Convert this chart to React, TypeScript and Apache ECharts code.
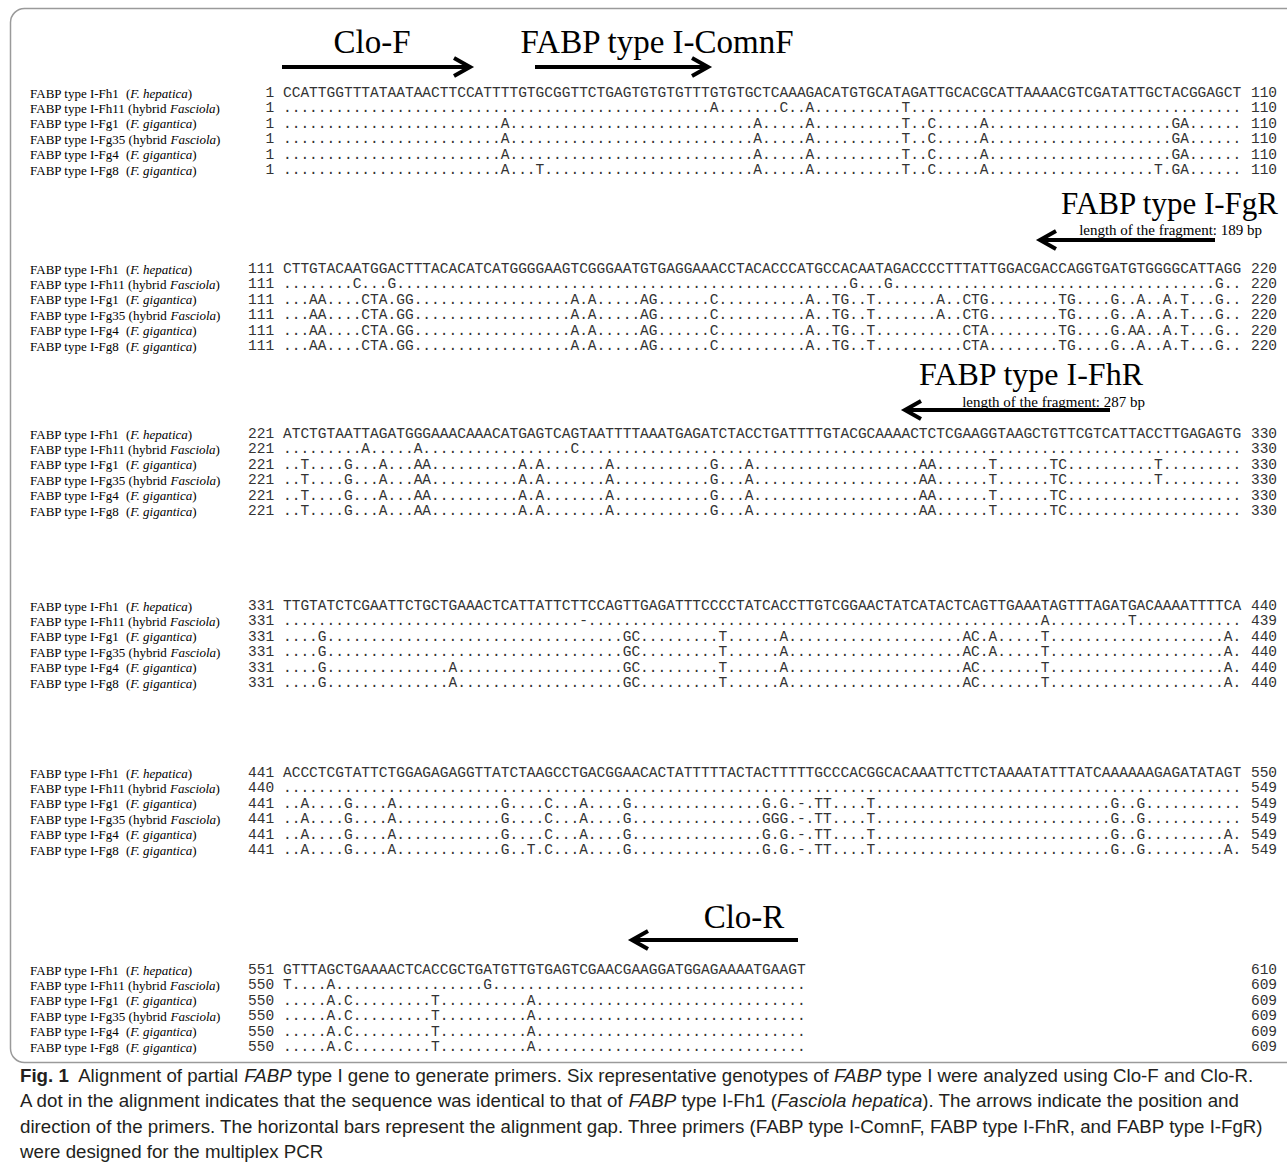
import React, { useEffect, useRef } from "react";
import * as echarts from "echarts";

const W = 1287;
const H = 1170;

// ---------- DATA ----------
const strainNames = [
  "FABP type I-Fh1",
  "FABP type I-Fh11",
  "FABP type I-Fg1",
  "FABP type I-Fg35",
  "FABP type I-Fg4",
  "FABP type I-Fg8",
];
const strainHosts = ["F. hepatica", "Fasciola", "F. gigantica", "Fasciola", "F. gigantica", "F. gigantica"];
const strainHybrid = [false, true, false, true, false, false];

// reference sequence (FABP type I-Fh1) per alignment block
const fh1Blocks = [
  "CCATTGGTTTATAATAACTTCCATTTTGTGCGGTTCTGAGTGTGTGTTTGTGTGCTCAAAGACATGTGCATAGATTGCACGCATTAAAACGTCGATATTGCTACGGAGCT",
  "CTTGTACAATGGACTTTACACATCATGGGGAAGTCGGGAATGTGAGGAAACCTACACCCATGCCACAATAGACCCCTTTATTGGACGACCAGGTGATGTGGGGCATTAGG",
  "ATCTGTAATTAGATGGGAAACAAACATGAGTCAGTAATTTTAAATGAGATCTACCTGATTTTGTACGCAAAACTCTCGAAGGTAAGCTGTTCGTCATTACCTTGAGAGTG",
  "TTGTATCTCGAATTCTGCTGAAACTCATTATTCTTCCAGTTGAGATTTCCCCTATCACCTTGTCGGAACTATCATACTCAGTTGAAATAGTTTAGATGACAAAATTTTCA",
  "ACCCTCGTATTCTGGAGAGAGGTTATCTAAGCCTGACGGAACACTATTTTTACTACTTTTTGCCCACGGCACAAATTCTTCTAAAATATTTATCAAAAAAGAGATATAGT",
  "GTTTAGCTGAAAACTCACCGCTGATGTTGTGAGTCGAACGAAGGATGGAGAAAATGAAGT",
];

// differences from Fh1, "position+base" within each block ("-" = gap)
const fh11Diffs = ["50A 58C 61A 72T", "9C 13G 66G 70G 108G", "10A 16A 34C", "35- 88A 98T", "", "1T 6A 24G"];
const fg1Diffs = [
  "26A 55A 61A 72T 75C 81A 103G 104A",
  "4A 5A 10C 11T 12A 14G 15G 34A 36A 42A 43G 50C 61A 64T 65G 68T 76A 79C 80T 81G 90T 91G 96G 99A 102A 104T 108G",
  "3T 8G 12A 16A 17A 28A 30A 38A 50G 54A 74A 75A 82T 89T 90C 101T",
  "5G 40G 41C 51T 58A 79A 80C 82A 88T 109A",
  "3A 8G 13A 26G 31C 35A 40G 56G 58G 60- 62T 63T 68T 96G 99G",
  "6A 8C 18T 29A",
];
const fg35Diffs = [
  "26A 55A 61A 72T 75C 81A 103G 104A",
  "4A 5A 10C 11T 12A 14G 15G 34A 36A 42A 43G 50C 61A 64T 65G 68T 76A 79C 80T 81G 90T 91G 96G 99A 102A 104T 108G",
  "3T 8G 12A 16A 17A 28A 30A 38A 50G 54A 74A 75A 82T 89T 90C 101T",
  "5G 40G 41C 51T 58A 79A 80C 82A 88T 109A",
  "3A 8G 13A 26G 31C 35A 40G 56G 57G 58G 60- 62T 63T 68T 96G 99G",
  "6A 8C 18T 29A",
];
const fg4Diffs = [
  "26A 55A 61A 72T 75C 81A 103G 104A",
  "4A 5A 10C 11T 12A 14G 15G 34A 36A 42A 43G 50C 61A 64T 65G 68T 79C 80T 81A 90T 91G 96G 98A 99A 102A 104T 108G",
  "3T 8G 12A 16A 17A 28A 30A 38A 50G 54A 74A 75A 82T 89T 90C",
  "5G 20A 40G 41C 51T 58A 79A 80C 88T 109A",
  "3A 8G 13A 26G 31C 35A 40G 56G 58G 60- 62T 63T 68T 96G 99G 109A",
  "6A 8C 18T 29A",
];
const fg8Diffs = [
  "26A 30T 55A 61A 72T 75C 81A 101T 103G 104A",
  "4A 5A 10C 11T 12A 14G 15G 34A 36A 42A 43G 50C 61A 64T 65G 68T 79C 80T 81A 90T 91G 96G 99A 102A 104T 108G",
  "3T 8G 12A 16A 17A 28A 30A 38A 50G 54A 74A 75A 82T 89T 90C",
  "5G 20A 40G 41C 51T 58A 79A 80C 88T 109A",
  "3A 8G 13A 26G 29T 31C 35A 40G 56G 58G 60- 62T 63T 68T 96G 99G 109A",
  "6A 8C 18T 29A",
];

const blockStarts = [
  [1, 1, 1, 1, 1, 1],
  [111, 111, 111, 111, 111, 111],
  [221, 221, 221, 221, 221, 221],
  [331, 331, 331, 331, 331, 331],
  [441, 440, 441, 441, 441, 441],
  [551, 550, 550, 550, 550, 550],
];
const blockEnds = [
  [110, 110, 110, 110, 110, 110],
  [220, 220, 220, 220, 220, 220],
  [330, 330, 330, 330, 330, 330],
  [440, 439, 440, 440, 440, 440],
  [550, 549, 549, 549, 549, 549],
  [610, 609, 609, 609, 609, 609],
];

const primerNames = ["Clo-F", "FABP type I-ComnF", "FABP type I-FgR", "FABP type I-FhR", "Clo-R"];
const fragmentNotes = ["length of the fragment: 189 bp", "length of the fragment: 287 bp"];

const captionLines = [
  "{b|Fig. 1}  Alignment of partial {i|FABP} type I gene to generate primers. Six representative genotypes of {i|FABP} type I were analyzed using Clo-F and Clo-R.",
  "A dot in the alignment indicates that the sequence was identical to that of {i|FABP} type I-Fh1 ({i|Fasciola hepatica}). The arrows indicate the position and",
  "direction of the primers. The horizontal bars represent the alignment gap. Three primers (FABP type I-ComnF, FABP type I-FhR, and FABP type I-FgR)",
  "were designed for the multiplex PCR",
];

// ---------- LAYOUT ----------
const MONO = '"Liberation Mono", "Courier New", monospace';
const SERIF = '"Liberation Serif", "Times New Roman", serif';
const SANS = '"Liberation Sans", Arial, sans-serif';
const CH = 8.72; // character pitch
const MONO_SIZE = CH / 0.6;
const SEQ_X = 283;
const BLOCK_Y = [93, 269, 434, 606, 773, 970];
const ROW_DY = 15.4;
const SEQ_COLOR = "#333";
const CAP_SIZE = 18.7;
const CAP_COLOR = "#231f20";
const TITLE_SIZE = 33;

function applyDiffs(ref: string, diffs: string): string {
  const chars = ref.split("").map(() => ".");
  diffs
    .split(" ")
    .filter((d) => d.length > 0)
    .forEach((d) => {
      const pos = parseInt(d.slice(0, -1), 10);
      chars[pos - 1] = d.slice(-1);
    });
  return chars.join("");
}

function pad3(n: number): string {
  const s = String(n);
  return " ".repeat(Math.max(0, 3 - s.length)) + s;
}

function txt(x: number, y: number, text: string, opts: any = {}) {
  return {
    type: "text",
    x,
    y,
    silent: true,
    style: {
      text,
      fill: opts.fill || "#000",
      fontFamily: opts.fontFamily || SERIF,
      fontSize: opts.fontSize || 13,
      fontStyle: opts.fontStyle || "normal",
      fontWeight: opts.fontWeight || "normal",
      textAlign: opts.align || "left",
      align: opts.align || "left",
      textVerticalAlign: "middle",
      verticalAlign: "middle",
      rich: opts.rich,
    },
  };
}

function arrow(xFrom: number, xTo: number, y: number) {
  const dir = xTo > xFrom ? 1 : -1;
  const headL = 16;
  const headH = 9;
  return [
    {
      type: "line",
      silent: true,
      shape: { x1: xFrom, y1: y, x2: xTo - dir * 2, y2: y },
      style: { stroke: "#000", lineWidth: 4 },
    },
    {
      type: "polyline",
      silent: true,
      shape: {
        points: [
          [xTo - dir * headL, y - headH],
          [xTo, y],
          [xTo - dir * headL, y + headH],
        ],
      },
      style: { stroke: "#000", lineWidth: 4, fill: "none", lineJoin: "miter" },
    },
  ];
}

function buildElements() {
  const els: any[] = [];
  // frame
  els.push({
    type: "rect",
    silent: true,
    shape: { x: 10.5, y: 8.5, width: 1300, height: 1054, r: 14 },
    style: { fill: "none", stroke: "#9a9a9a", lineWidth: 1.5 },
  });

  const allDiffs = [null, fh11Diffs, fg1Diffs, fg35Diffs, fg4Diffs, fg8Diffs];
  const italicRich = {
    i: { fontFamily: SERIF, fontSize: 13, fontStyle: "italic", fill: "#000" },
  };

  fh1Blocks.forEach((ref, b) => {
    for (let r = 0; r < 6; r++) {
      const y = BLOCK_Y[b] + r * ROW_DY;
      // label
      if (strainHybrid[r]) {
        els.push(txt(30, y, strainNames[r] + " (hybrid {i|" + strainHosts[r] + "})", { rich: italicRich }));
      } else {
        els.push(txt(30, y, strainNames[r]));
        els.push(txt(126, y, "({i|" + strainHosts[r] + "})", { rich: italicRich }));
      }
      const seq = r === 0 ? ref : applyDiffs(ref, (allDiffs[r] as string[])[b]);
      els.push(
        txt(SEQ_X - 4 * CH, y, pad3(blockStarts[b][r]) + " " + seq, {
          fontFamily: MONO,
          fontSize: MONO_SIZE,
          fill: SEQ_COLOR,
        })
      );
      els.push(
        txt(SEQ_X + 111 * CH, y, String(blockEnds[b][r]), {
          fontFamily: MONO,
          fontSize: MONO_SIZE,
          fill: SEQ_COLOR,
        })
      );
    }
  });

  // primers
  els.push(txt(372, 42, primerNames[0], { fontSize: TITLE_SIZE, align: "center" }));
  els.push(...arrow(282, 470, 67));
  els.push(txt(657, 42, primerNames[1], { fontSize: TITLE_SIZE, align: "center" }));
  els.push(...arrow(535, 708, 67));

  els.push(txt(1278, 203, primerNames[2], { fontSize: 31, align: "right" }));
  els.push(txt(1262, 230, fragmentNotes[0], { fontSize: 15, align: "right" }));
  els.push(...arrow(1215, 1040, 240));

  els.push(txt(1143, 374, primerNames[3], { fontSize: 32, align: "right" }));
  els.push(txt(1145, 402, fragmentNotes[1], { fontSize: 15, align: "right" }));
  els.push(...arrow(1110, 905, 410));

  els.push(txt(744, 917, primerNames[4], { fontSize: TITLE_SIZE, align: "center" }));
  els.push(...arrow(798, 632, 940));

  // caption
  const capRich = {
    b: { fontFamily: SANS, fontSize: CAP_SIZE, fontWeight: "bold", fill: CAP_COLOR },
    i: { fontFamily: SANS, fontSize: CAP_SIZE, fontStyle: "italic", fill: CAP_COLOR },
  };
  const capY = [1075, 1100, 1126, 1151];
  captionLines.forEach((line, k) => {
    els.push(txt(20, capY[k], line, { fontFamily: SANS, fontSize: CAP_SIZE, fill: CAP_COLOR, rich: capRich }));
  });
  return els;
}

export default function App() {
  const ref = useRef<HTMLDivElement>(null);
  useEffect(() => {
    document.body.style.margin = "0";
    const chart = echarts.init(ref.current as HTMLDivElement, null, { renderer: "svg", width: W, height: H });
    chart.setOption({
      animation: false,
      backgroundColor: "#ffffff",
      graphic: { elements: buildElements() },
    });
    return () => chart.dispose();
  }, []);
  return <div ref={ref} style={{ width: W, height: H }} />;
}
